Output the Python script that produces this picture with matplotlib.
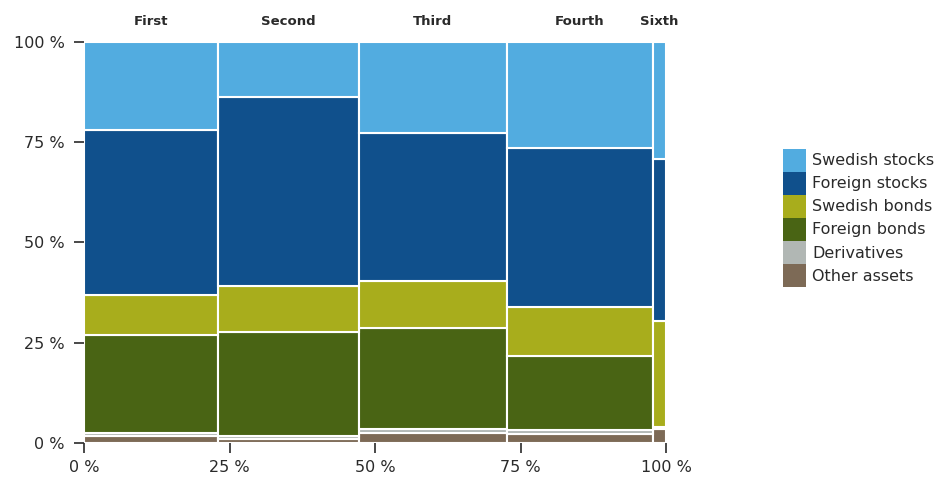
import matplotlib
matplotlib.use('Agg')
import matplotlib.pyplot as plt
from matplotlib.patches import Patch

# Marimekko chart: fund share of total (x) vs. asset mix (y)
funds = ['First', 'Second', 'Third', 'Fourth', 'Sixth']
fund_share = [23.1, 24.1, 25.4, 25.2, 2.2]

other_assets = [1.8, 1.0, 2.5, 2.3, 3.6]
derivatives = [0.8, 0.8, 1.1, 1.0, 0.4]
foreign_bonds = [24.3, 25.9, 25.1, 18.4, 0.0]
swedish_bonds = [10.0, 11.5, 11.7, 12.2, 26.5]
foreign_stocks = [41.2, 47.1, 36.9, 39.7, 40.4]
swedish_stocks = [21.9, 13.7, 22.7, 26.4, 29.1]

# bottom -> top
series = [
    ('Other assets', other_assets, '#7d6a56'),
    ('Derivatives', derivatives, '#b1b7b4'),
    ('Foreign bonds', foreign_bonds, '#496414'),
    ('Swedish bonds', swedish_bonds, '#a8ad1c'),
    ('Foreign stocks', foreign_stocks, '#10508c'),
    ('Swedish stocks', swedish_stocks, '#52ace0'),
]

text_col = '#2a2a2a'

fig = plt.figure(figsize=(9.4, 4.8), dpi=100)
ax = fig.add_axes([0.0894, 0.0771, 0.6191, 0.8354])

lefts = []
pos = 0
for w in fund_share:
    lefts.append(pos)
    pos += w

bottoms = [0.0] * len(funds)
for name, vals, col in series:
    ax.bar(lefts, vals, width=fund_share, bottom=bottoms, align='edge',
           color=col, edgecolor='white', linewidth=1.5)
    bottoms = [b + v for b, v in zip(bottoms, vals)]

# fund names above the columns
for l, w, name in zip(lefts, fund_share, funds):
    ax.text(l + w / 2, 105, name, ha='center', va='center', fontsize=9.5,
            fontweight='bold', color=text_col, clip_on=False)

ax.set_xlim(0, 100)
ax.set_ylim(0, 100)
ticks = [0, 25, 50, 75, 100]
ax.set_xticks(ticks)
ax.set_yticks(ticks)
ax.set_xticklabels([f'{t} %' for t in ticks])
ax.set_yticklabels([f'{t} %' for t in ticks])
ax.tick_params(axis='both', direction='out', length=7, width=1.2,
               color=text_col, labelcolor=text_col, labelsize=11.5)
ax.tick_params(axis='y', pad=7)
ax.tick_params(axis='x', pad=5)
for s in ax.spines.values():
    s.set_visible(False)

handles = [Patch(facecolor=col, edgecolor='none', label=name)
           for name, vals, col in reversed(series)]
fig.legend(handles=handles, loc='upper left', bbox_to_anchor=(0.833, 0.69),
           frameon=False, fontsize=11.5, labelcolor=text_col,
           handlelength=1.44, handleheight=1.84, handletextpad=0.37,
           labelspacing=0, borderpad=0, borderaxespad=0)

fig.savefig('out.png', dpi=100)
